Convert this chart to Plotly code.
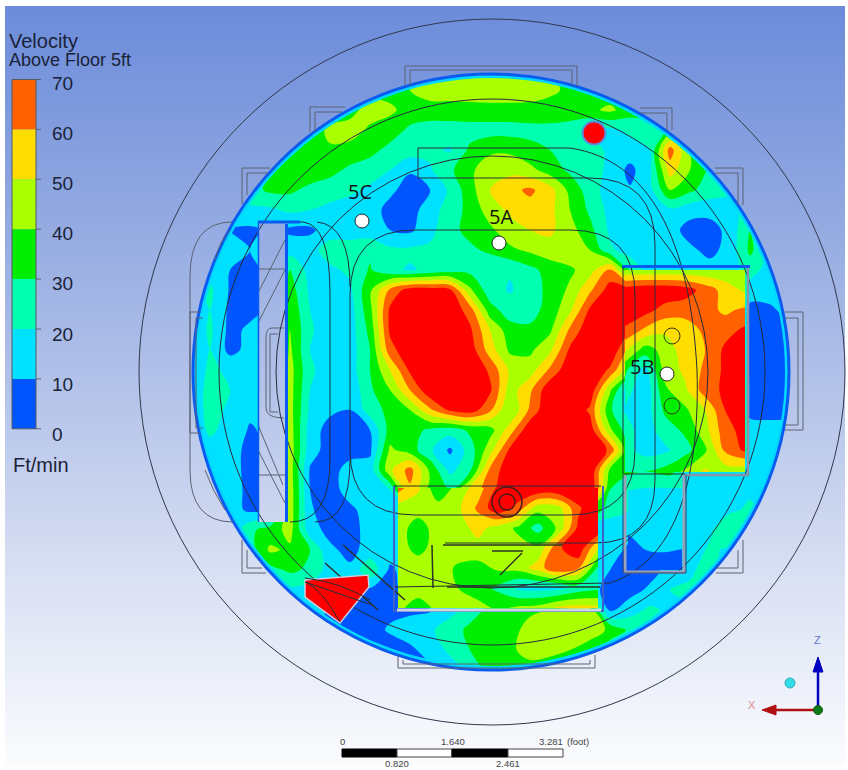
import numpy as np
import plotly.graph_objects as go

# ---- velocity field (Ft/min) ----
grid_x = [190,210,230,250,270,290,310,330,350,370,390,410,430,450,470,490,510,530,550,570,590,610,630,650,670,690,710,730,750,770,790]
grid_y = [70,90,110,130,150,170,190,210,230,250,270,290,310,330,350,370,390,410,430,450,470,490,510,530,550,570,590,610,630,650,670]
velocity = [
[30,30,30,30,30,30,30,30,30,30,36,38,44,44,44,44,44,44,40,36,32,32,32,32,32,32,32,32,32,32,32],
[30,30,30,30,30,30,30,30,30,36,36,40,46,46,46,47,47,46,42,38,34,34,32,32,32,32,32,32,32,32,32],
[30,30,30,30,30,30,30,30,36,45,42,36,35,35,36,36,36,36,36,36,38,42,35,35,30,30,30,30,30,30,30],
[28,28,28,28,28,28,30,44,45,38,35,28,26,26,26,26,26,27,27,25,18,18,22,25,32,30,30,30,30,30,30],
[25,25,25,25,25,30,32,38,36,33,27,25,22,19,32,38,38,33,30,28,24,18,16,20,65,38,32,30,30,30,30],
[25,25,25,25,30,38,37,33,28,25,20,11,19,28,38,46,47,43,35,28,24,18,7,18,55,40,28,30,30,30,30],
[22,22,22,26,32,32,27,25,22,18,12,6,10,22,36,50,57,62,54,37,25,15,11,17,40,32,25,22,22,22,22],
[18,18,18,18,18,22,20,17,15,14,7,6,15,25,33,45,52,56,53,40,28,17,14,16,18,14,14,17,24,22,22],
[15,15,10,8,12,8,8,15,15,14,10,8,17,27,33,38,46,50,52,44,33,18,14,14,14,6,5,14,30,25,22],
[15,15,14,10,12,16,16,25,25,28,22,22,22,25,28,32,38,42,46,48,40,22,15,14,14,12,7,14,32,20,18],
[14,14,10,8,12,30,16,18,22,31,22,19,22,25,27,22,21,27,34,38,46,62,30,15,14,14,14,16,25,15,15],
[15,22,9,7,12,35,18,16,18,38,62,75,75,72,42,24,19,25,33,42,58,75,75,75,75,72,62,55,15,15,15],
[15,20,8,7,12,38,20,15,15,37,72,78,78,78,65,34,25,26,34,48,72,78,80,72,60,60,58,62,7,8,14],
[10,22,7,12,12,40,22,12,15,33,72,78,80,78,72,50,34,32,38,62,78,80,70,50,52,55,63,72,5,6,7],
[12,20,7,13,12,42,20,14,15,30,66,78,80,80,76,55,38,38,48,72,80,80,55,35,42,55,58,72,6,5,6],
[12,22,18,14,12,44,22,14,15,30,50,72,80,80,80,68,48,45,62,78,80,68,42,25,40,50,58,72,6,5,6],
[12,24,20,13,12,44,20,18,12,28,40,60,78,80,80,72,45,58,78,80,78,42,10,16,38,52,62,75,8,6,6],
[12,24,18,12,12,44,18,12,10,25,33,40,58,72,76,62,40,62,80,80,68,32,14,18,38,46,62,75,7,6,6],
[12,22,16,9,12,45,15,6,7,10,34,34,28,25,32,36,55,78,80,80,76,42,22,14,22,32,46,72,14,14,14],
[8,16,14,7,12,46,14,6,6,8,42,35,22,8,25,46,72,80,80,80,80,68,28,16,17,24,38,55,15,15,15],
[8,12,15,6,12,45,9,6,14,14,48,64,38,17,28,62,78,80,80,80,80,38,32,30,35,15,15,15,15,15,15],
[8,14,15,7,12,46,10,6,14,14,20,58,36,30,52,66,80,80,80,80,80,30,22,16,16,14,16,14,18,16,12],
[14,14,14,8,12,46,11,6,8,14,18,15,42,40,45,72,72,62,52,45,40,24,20,14,14,12,14,18,22,15,12],
[14,14,14,28,34,44,14,7,6,14,15,15,32,44,52,50,44,32,28,40,12,14,14,14,14,14,18,30,20,16,14],
[16,16,18,25,42,38,30,12,7,14,15,15,44,46,48,46,44,42,72,40,12,14,8,11,14,14,22,18,18,16,14],
[16,16,16,18,26,32,28,15,12,28,8,15,36,30,28,32,36,44,58,50,12,10,6,6,14,18,25,15,16,16,14],
[16,16,16,16,15,18,15,15,8,8,6,15,36,38,30,26,22,18,18,20,12,8,6,12,20,22,18,18,16,16,16],
[12,12,12,12,12,12,12,10,8,7,8,8,9,16,26,32,34,38,40,42,44,8,16,22,18,18,18,18,18,18,18],
[8,8,8,8,8,8,8,8,9,7,11,15,18,26,32,38,36,44,46,46,46,38,28,18,18,18,18,18,18,18,18],
[8,8,8,8,8,8,8,8,8,8,6,8,14,22,30,36,38,44,46,40,34,22,20,20,20,20,20,20,20,20,20],
[8,8,8,8,8,8,8,8,8,8,8,8,8,15,22,34,38,36,28,24,22,22,22,22,22,22,22,22,22,22,22],
]

# walled rooms, read separately because their walls break the field
right_room_x = [625,645,665,685,705,725,745]
right_room_y = [270,290,310,330,350,370,390,410,430,450,472]
right_room = [
[42,42,42,42,42,42,45],
[75,78,78,75,66,56,48],
[78,74,66,64,64,58,62],
[68,58,52,55,62,66,72],
[52,35,44,55,60,72,74],
[32,16,44,52,62,72,74],
[25,12,38,48,65,72,74],
[20,14,32,38,50,70,74],
[24,15,25,32,46,66,74],
[24,16,18,26,38,62,72],
[30,30,34,42,52,44,42],
]
lower_room_x = [398,418,438,458,478,498,518,538,558,578,598]
lower_room_y = [488,508,528,548,568,588,608]
lower_room = [
[64,52,32,44,55,72,80,80,80,80,80],
[46,44,44,48,62,78,66,44,46,68,80],
[44,36,44,46,53,46,38,26,42,72,80],
[44,37,44,47,47,46,44,42,68,78,50],
[44,45,46,38,36,42,44,55,70,62,28],
[44,44,46,40,34,28,18,16,17,24,28],
[42,36,42,44,44,38,42,44,52,54,52],
]
small_room_x = [628,646,664,682]
small_room_y = [478,498,518,538,558,570]
small_room = [
[25,25,25,25],
[17,15,15,15],
[15,14,14,14],
[9,13,15,15],
[5,8,8,6],
[5,5,5,5],
]

band_colors = ["#0055ff","#00e1ff","#00ffb0","#00ee00","#aaff00","#ffdd00","#ff6000","#ff0000"]
legend_ticks = [70,60,50,40,30,20,10,0]
legend_colors = ["#ff6000","#ffdd00","#aaff00","#00ee00","#00ffb0","#00e1ff","#0055ff"]
gradient_stops = [(0.0,"#6c8cdb"),(0.25,"#8ea6e0"),(0.5,"#b3c2e9"),(0.75,"#d9e0f3"),(1.0,"#fbfcfe")]

scale = [(i/8 if j==0 else (i+1)/8, c) for i,c in enumerate(band_colors) for j in (0,1)]
fig = go.Figure()

def field(x,y,z):
    fig.add_trace(go.Contour(x=x,y=y,z=z,zmin=0,zmax=80,colorscale=scale,autocontour=False,
        contours=dict(start=10,end=70,size=10,coloring="fill",showlines=False),
        line=dict(width=0,smoothing=1.0),showscale=False,hoverinfo="skip"))
field(grid_x,grid_y,velocity)
field(right_room_x,right_room_y,right_room)
field(lower_room_x,lower_room_y,lower_room)
field(small_room_x,small_room_y,small_room)

# gradient backdrop with the disc left open: one polygon above the centre, one below
cx,cy,r = 491,372,298
grad = dict(type="vertical",colorscale=gradient_stops,start=6,stop=766)
def backdrop(xs,ys):
    fig.add_trace(go.Scatter(x=xs,y=ys,mode="lines",line=dict(width=0,simplify=False),fill="toself",fillgradient=grad,hoverinfo="skip"))
t = np.linspace(0,np.pi,181)
backdrop([5,845,845]+list(cx+r*np.cos(t))+[5,5],[6,6,cy+0.5]+list(cy+0.5-r*np.sin(t))+[cy+0.5,6])
backdrop([5,845,845]+list(cx+r*np.cos(t))+[5,5],[766,766,cy-0.5]+list(cy-0.5+r*np.sin(t))+[cy-0.5,766])
# cut-out in the floor
backdrop([258,287,287,258,258],[223,223,522,522,223])

line = "#262c3c"; soft = "#5a6272"
shapes = []
def circ(x,y,rad,color=line,w=1,fill=None):
    shapes.append(dict(type="circle",x0=x-rad,x1=x+rad,y0=y-rad,y1=y+rad,line=dict(color=color,width=w),fillcolor=fill))
def path(d,color=line,w=1,fill=None):
    shapes.append(dict(type="path",path=d,line=dict(color=color,width=w),fillcolor=fill))
def rect(a,b,c,d,color,w=1,fill=None):
    shapes.append(dict(type="rect",x0=a,x1=c,y0=b,y1=d,line=dict(color=color,width=w),fillcolor=fill))

# disc rim
circ(491,372,295.5,"#00d8ff",3)
circ(491,372,298,"#0a5cf0",3)
# structure outlines
tabs = ["M405,86 V66 H577 V86","M410,86 V70 H572 V86","M310,132 V107 H345","M315,132 V112 H342",
        "M672,130 V108 H640","M667,130 V113 H640","M242,204 V168 H270","M247,195 V173 H268",
        "M743,205 V168 H715","M738,205 V173 H715","M200,312 H190 V433 H200","M203,318 H196 V428 H203",
        "M785,312 H803 V430 H785","M785,318 H798 V425 H785",
        "M242,540 V573 H266","M247,550 V568 H262","M743,540 V573 H716","M738,550 V568 H716",
        "M398,655 V668 H595 V655","M403,660 V664 H590 V660",
        "M232,222 Q190,222 190,277 V470 Q190,522 233,522","M215,260 Q220,240 230,230","M205,470 Q212,490 225,510",
        "M284,328 H272 Q266,328 266,338 V408 Q266,418 284,418","M278,334 H270 V412 H278",
        "M258,293 L285,240 M258,323 L285,270 M258,269 H285 M258,450 L285,503 M258,425 L283,485 M258,475 H285"]
for t_ in tabs:
    path(t_,soft,1)
circ(492,372,353,"#30384c",1)
circ(492,372,273)
circ(492,372,216)
inner = ["M415,230 H570 Q635,230 635,295 V450 Q635,515 570,515 H415 Q350,515 350,450 V295 Q350,230 415,230",
         "M418,178 H590 Q655,178 655,245 V480 Q655,543 595,543 H445",
         "M418,148 H570 C650,160 690,240 697,370 C700,470 680,560 610,583 L395,587",
         "M418,148 V178","M258,222 H303 Q330,225 330,293 V460 Q330,522 290,522",
         "M317,222 Q350,225 350,287","M350,460 Q350,522 315,522"]
for t_ in inner:
    path(t_)
thick = ["M325,563 L378,610","M343,545 L405,600","M432,545 L433,588","M443,545 H563","M447,587 H600","M492,551 H523","M500,575 L522,553"]
for t_ in thick:
    path(t_,"#2a3326",1.5)
# cut-out rim
path("M286.5,224 V522","#0a5cf0",3)
path("M258,222 H300","#0a5cf0",3)
path("M258.5,222 V522","#0a5cf0",1.5)
# box walls
path("M622,266.5 H750","#0a5cf0",3)
path("M748,268 V475 H685","#8a93a8",2.5)
path("M625,475 V572 H684 V475","#9aa3b6",3)
path("M623,475 V573 H686 V475","#2a3c78",1)
path("M394,486 V611 H603 V486","#3a62c8",2)
path("M397,610 H601","#d0d5e2",3)
path("M394,486 H601 M623,267 V474 H685",line,1)
# red vent wedge
path("M305,580 L368,575 L369,587 L340,623 L305,597 Z","#c8cfe0",1.5,"#ff0000")
path("M305,578 Q340,582 370,600 M307,583 Q322,590 340,622 M305,582 L372,605",line,1)
# red pipe and ring
circ(594,133,11.5,"#5a8ce0",2,"#ff0000")
circ(507,502,15,"#4a1a1a",1.5)
circ(507,502,8,"#4a1a1a",1.5)
# probe points
for x,y in [(672,336),(672,406)]:
    circ(x,y,8,"#353b20",1)
for x,y in [(362,221),(499,243),(667,374)]:
    circ(x,y,7,"#222222",1,"#ffffff")
# legend bar
for i,c in enumerate(legend_colors):
    rect(12,79.5+49.9*i,36,79.5+49.9*(i+1),c,0,c)
for i in range(8):
    path(f"M36,{79.5+49.9*i} H41",soft,1)
rect(12,79.5,36,428.8,"#555a66",1)
# scale bar
rect(342,749,397,757,"#000000",1,"#000000")
rect(397,749,452,757,"#444444",1,"#ffffff")
rect(452,749,508,757,"#000000",1,"#000000")
rect(508,749,563,757,"#444444",1,"#ffffff")
# triad
path("M818,710 V672","#0000c0",2.5)
path("M818,657 L813,672 H823 Z","#0000c0",1,"#0000c0")
path("M818,710 H775","#b01010",2.5)
path("M762,710 L776,705 V715 Z","#b01010",1,"#b01010")
circ(818,710,4.5,"#0a5a0a",1,"#0f7a1a")
circ(790,683,5,"#3aa8b8",1,"#30dce8")

fig.update_layout(shapes=shapes)

def label(x,y,t,size,color="#1a2238",anchor="left",family="Liberation Sans"):
    fig.add_annotation(x=x,y=y,text=t,showarrow=False,xanchor=anchor,yanchor="middle",font=dict(size=size,color=color,family=family),xref="x",yref="y")
label(7,41,"Velocity",20)
label(7,60,"Above Floor 5ft",18)
for i,tk in enumerate(legend_ticks):
    label(50,83+50.2*i,str(tk),19,"#1a2238")
label(11,465,"Ft/min",20)
label(360,191,"5C",20,"#111111","center","Open Sans")
label(501,216,"5A",20,"#111111","center","Open Sans")
label(642,366,"5B",20,"#111111","center","Open Sans")
label(342,741,"0",9.5,"#444444","center")
label(453,741,"1.640",9.5,"#444444","center")
label(551,741,"3.281",9.5,"#444444","center")
label(578,741,"(foot)",9.5,"#444444","center")
label(397,763,"0.820",9.5,"#444444","center")
label(508,763,"2.461",9.5,"#444444","center")
label(817,640,"Z",11,"#6a70d0","center")
label(752,705,"X",11,"#e08a8a","center")

fig.update_xaxes(range=[0,848],visible=False,fixedrange=True)
fig.update_yaxes(range=[770,0],visible=False,fixedrange=True)
fig.update_layout(width=848,height=770,margin=dict(l=0,r=0,t=0,b=0),paper_bgcolor="#ffffff",plot_bgcolor="#ffffff",showlegend=False)
fig.write_html("out.html",config=dict(displayModeBar=False),post_script="document.body.style.margin='0';document.body.style.overflow='hidden';")
